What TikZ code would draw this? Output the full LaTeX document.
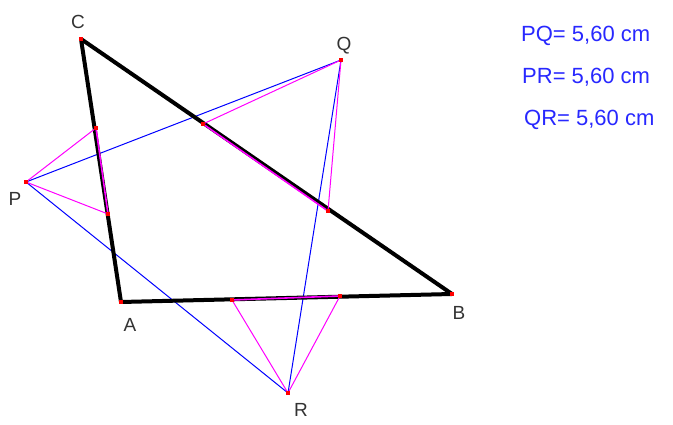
\documentclass[tikz,border=0pt]{standalone}
\usepackage{fontspec}
\setmainfont{Liberation Sans}
\definecolor{mag}{RGB}{255,0,255}
\definecolor{blu}{RGB}{0,0,255}
\definecolor{txtblu}{RGB}{40,40,255}
\definecolor{pnt}{RGB}{255,0,0}
\begin{document}
\begin{tikzpicture}[x=1pt,y=-1pt,
  tri/.style={draw=black,line width=4pt,line join=round},
  blueline/.style={draw=blu,line width=1pt},
  magline/.style={draw=mag,line width=1pt},
  magseg/.style={draw=mag,line width=1.6pt},
  pt/.style={fill=pnt,minimum size=3.5pt,inner sep=0pt,outer sep=0pt,shape=rectangle},
  lbl/.style={text=black!80,font=\fontsize{19}{19}\selectfont,inner sep=0pt},
  meas/.style={text=txtblu,font=\fontsize{22}{22}\selectfont,inner sep=0pt,anchor=west}]
\useasboundingbox (0,0) rectangle (673,425);
% vertices
\coordinate (C) at (81,39);
\coordinate (A) at (121,302);
\coordinate (B) at (452,294);
\coordinate (P) at (26,182);
\coordinate (Q) at (341,60);
\coordinate (R) at (288,393);
\coordinate (ca1) at (96,128);
\coordinate (ca2) at (108,214);
\coordinate (cb1) at (203,124);
\coordinate (cb2) at (328,211);
\coordinate (ab1) at (232,300);
\coordinate (ab2) at (340,296);
% blue triangle
\draw[blueline] (P) -- (Q) -- (R) -- cycle;
% black triangle
\draw[tri] (A) -- (B) -- (C) -- cycle;
% magenta
\draw[magline] (P) -- (ca1) (P) -- (ca2);
\draw[magline] (Q) -- (cb1) (Q) -- (cb2);
\draw[magline] (R) -- (ab1) (R) -- (ab2);
\draw[magseg] (ca1) -- (ca2);
\draw[magseg] (cb1) -- (cb2);
\draw[magseg] (ab1) -- (ab2);
% points
\foreach \p in {A,B,C,P,Q,R,ca1,ca2,cb1,cb2,ab1,ab2}
  \node[pt] (n\p) at (\p) {};
% labels
\node[lbl] (lC) at (78,22) {C};
\node[lbl] (lA) at (130,325) {A};
\node[lbl] (lB) at (459,313) {B};
\node[lbl] (lP) at (15,199) {P};
\node[lbl] (lQ) at (344,46) {Q};
\node[lbl] (lR) at (301,410) {R};
% measurements
\node[meas] (m1) at (521,36) {PQ= 5,60 cm};
\node[meas] (m2) at (522,77) {PR= 5,60 cm};
\node[meas] (m3) at (524,120) {QR= 5,60 cm};
\end{tikzpicture}
\end{document}
